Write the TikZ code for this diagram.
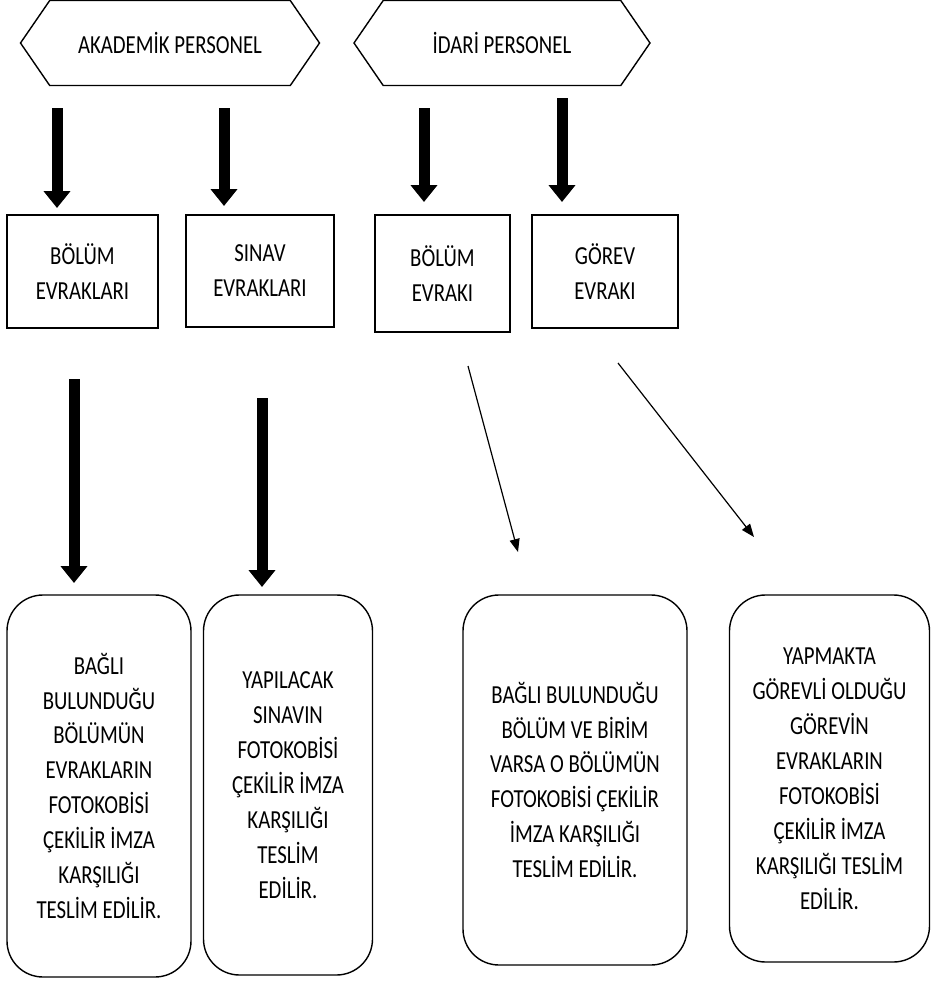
\documentclass[tikz,border=0pt]{standalone}
\usepackage{fontspec}
\setmainfont{Carlito}[FakeStretch=0.8]
\usetikzlibrary{arrows.meta, shapes.symbols}

\begin{document}
\begin{tikzpicture}
  [x=0.5pt,y=-0.5pt,
   every node/.style={font=\fontsize{13}{17.5}\selectfont, align=center, line width=0.7pt, inner sep=0pt},
   hexbox/.style={draw, signal, signal to=west and east, signal pointer angle=111, minimum height=42.5pt},
   docbox/.style={draw, rectangle},
   notebox/.style={draw, rectangle, rounded corners=18pt},
   fat/.style={line width=5.5pt, -{Triangle[width=13pt,length=8.5pt]}},
   slim/.style={line width=0.6pt, -{Triangle[width=5pt,length=6.5pt]}}]
  \useasboundingbox (0,0) rectangle (931,982);

  \node[hexbox, minimum width=149.5pt] (akad)  at (170,43) {AKADEMİK PERSONEL};
  \node[hexbox, minimum width=148pt]   (idari) at (502,43) {İDARİ PERSONEL};

  \node[docbox, minimum width=75.5pt, minimum height=56.5pt] (b1) at (82.5,271.5) {BÖLÜM\\EVRAKLARI};
  \node[docbox, minimum width=74pt,   minimum height=56pt]   (b2) at (260,271)    {SINAV\\EVRAKLARI};
  \node[docbox, minimum width=67.5pt, minimum height=58.5pt] (b3) at (442.5,273.5) {BÖLÜM\\EVRAKI};
  \node[docbox, minimum width=73pt,   minimum height=56.5pt] (b4) at (605,271.5)  {GÖREV\\EVRAKI};

  \node[notebox, minimum width=92pt, minimum height=191pt] (r1) at (99,786)
    {BAĞLI\\BULUNDUĞU\\BÖLÜMÜN\\EVRAKLARIN\\FOTOKOBİSİ\\ÇEKİLİR İMZA\\KARŞILIĞI\\TESLİM EDİLİR.};
  \node[notebox, minimum width=84.5pt, minimum height=190pt] (r2) at (288,785)
    {YAPILACAK\\SINAVIN\\FOTOKOBİSİ\\ÇEKİLİR İMZA\\KARŞILIĞI\\TESLİM\\EDİLİR.};
  \node[notebox, minimum width=112pt, minimum height=185pt] (r3) at (575,780)
    {BAĞLI BULUNDUĞU\\BÖLÜM VE BİRİM\\VARSA O BÖLÜMÜN\\FOTOKOBİSİ ÇEKİLİR\\İMZA KARŞILIĞI\\TESLİM EDİLİR.};
  \node[notebox, minimum width=100pt, minimum height=183.5pt] (r4) at (829.5,778.5)
    {YAPMAKTA\\GÖREVLİ OLDUĞU\\GÖREVİN\\EVRAKLARIN\\FOTOKOBİSİ\\ÇEKİLİR İMZA\\KARŞILIĞI TESLİM\\EDİLİR.};

  % arrow ends
  \coordinate (s1) at (57,108);  \coordinate (e1) at (57,208);
  \coordinate (s2) at (224,108); \coordinate (e2) at (224,206);
  \coordinate (s3) at (424,108); \coordinate (e3) at (424,202);
  \coordinate (s4) at (562,98);  \coordinate (e4) at (562,202);
  \coordinate (s5) at (74,379);  \coordinate (e5) at (74,583);
  \coordinate (s6) at (262,398); \coordinate (e6) at (262,587);
  \coordinate (s7) at (468,366); \coordinate (e7) at (518,552);
  \coordinate (s8) at (618,363); \coordinate (e8) at (754,537);

  \foreach \from/\to in {s1/e1,s2/e2,s3/e3,s4/e4,s5/e5,s6/e6}
    \draw[fat] (\from) -- (\to);
  \foreach \from/\to in {s7/e7,s8/e8}
    \draw[slim] (\from) -- (\to);

\end{tikzpicture}
\end{document}
